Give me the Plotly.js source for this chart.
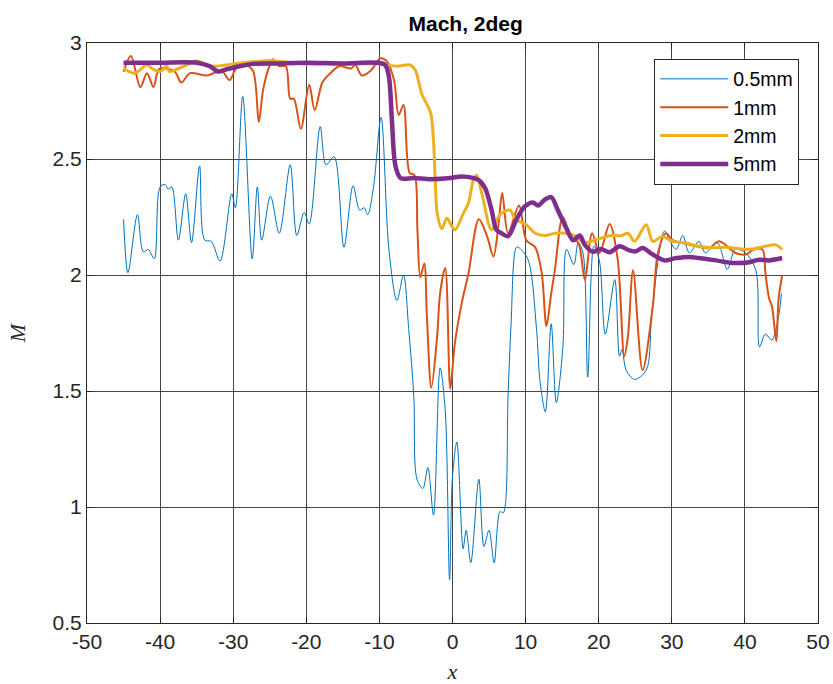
<!DOCTYPE html>
<html>
<head>
<meta charset="utf-8">
<script src="https://cdn.plot.ly/plotly-3.0.1.min.js"></script>
<style>html,body{margin:0;padding:0;background:#fff;}#chart{width:833px;height:684px;}</style>
</head>
<body>
<div id="chart"></div>
<script>
// 0.5mm
const x05 = [-45,-44.4,-43.1,-42.3,-41.6,-40.8,-40.0,-39.3,-38.9,-38.4,-37.5,-36.5,-35.7,-34.6,-33.9,-33.0,-31.8,-30.2,-29.7,-28.7,-27.4,-26.7,-26.1,-24.9,-23.7,-22.2,-21.3,-20.3,-19.6,-18.1,-17.3,-16.2,-14.85,-13.6,-12.7,-12.1,-11.6,-10.8,-9.77,-8.7,-7.6,-6.7,-6.0,-5.3,-4.86,-4.05,-3.37,-2.6,-1.7,-1.0,-0.4,0.0,0.6,1.45,1.87,2.5,3.6,4.3,5.0,5.7,6.5,6.95,7.6,8.0,8.76,9.2,10.35,11.5,11.95,12.7,13.5,14.2,15.1,15.6,16.6,17.2,17.85,18.5,19.35,20.1,20.9,22.2,22.85,23.2,23.75,24.9,26.5,27.3,29.0,29.7,30.6,31.5,32.4,33.7,34.6,36.2,37.6,38.7,40.1,41.5,42.0,42.8,43.7,44.6,45];
const y05 = [2.24,2.01,2.26,2.10,2.11,2.07,2.38,2.39,2.37,2.38,2.15,2.35,2.14,2.47,2.15,2.145,2.06,2.35,2.29,2.77,2.07,2.38,2.15,2.34,2.18,2.475,2.17,2.27,2.22,2.64,2.475,2.51,2.12,2.385,2.28,2.29,2.26,2.38,2.68,2.11,1.89,2.0,1.77,1.48,1.12,1.08,1.17,0.965,1.60,1.42,0.686,1.13,1.28,0.82,0.90,0.76,1.12,0.83,0.90,0.76,0.98,0.975,1.48,1.78,2.12,2.115,2.065,1.765,1.55,1.41,1.79,1.45,1.69,2.11,2.045,2.14,2.095,1.56,2.125,2.06,1.745,1.98,1.65,1.68,1.59,1.55,1.59,1.85,2.19,2.15,2.11,2.17,2.095,2.145,2.095,2.14,2.025,2.11,2.095,2.02,1.69,1.745,1.72,1.82,1.92];
// 1mm
const x1 = [-45,-44.0,-42.7,-41.8,-40.9,-40.1,-38.0,-37.1,-35.9,-33.6,-31.6,-30.5,-29.6,-28.4,-27.3,-26.5,-25.9,-25.0,-24.6,-23.7,-22.8,-22.2,-21.7,-20.75,-19.6,-18.85,-17.8,-16.7,-15.5,-13.9,-13.3,-12.4,-11.2,-9.85,-8.95,-8.0,-7.36,-6.7,-5.86,-5.2,-4.8,-4.4,-3.86,-3.5,-2.9,-2.1,-1.7,-1.0,-0.3,0.3,1.27,2.2,3.6,4.7,5.6,6.27,6.8,7.6,9.1,10.1,11.3,12.2,12.85,13.5,14.0,15.1,16.25,17.2,18.1,19.1,20.1,21.5,22.6,23.5,24.0,24.7,26.0,27.4,28.1,29.2,30.1,31.5,33.3,35.1,36.5,38.7,40.1,41.2,42.4,42.8,43.3,43.7,44.3,44.6,45.1];
const y1 = [2.876,2.944,2.81,2.87,2.81,2.89,2.876,2.83,2.87,2.86,2.88,2.84,2.89,2.905,2.88,2.66,2.80,2.905,2.93,2.9,2.9,2.76,2.76,2.63,2.82,2.71,2.83,2.87,2.9,2.89,2.905,2.86,2.88,2.934,2.92,2.84,2.69,2.733,2.44,2.43,2.195,1.99,2.05,1.82,1.514,1.736,1.92,2.03,1.51,1.70,1.88,2.01,2.24,2.17,2.08,2.21,2.353,2.18,2.30,2.15,2.12,2.01,1.78,1.92,2.02,2.25,2.16,2.14,1.98,2.18,2.095,2.22,2.066,1.65,1.736,2.02,1.59,1.865,2.095,2.18,2.15,2.138,2.124,2.116,2.145,2.095,2.088,2.11,2.11,2.01,1.90,1.865,1.715,1.894,2.0];
// 2mm
const x2 = [-45,-43.5,-41.8,-41.1,-40.0,-39.1,-38.7,-37.5,-36.4,-35.0,-33.9,-32.7,-30.0,-26.8,-24.6,-20,-15,-10,-8.95,-7.6,-5.8,-5.1,-4.2,-3.0,-2.6,-2.36,-2.1,-1.46,-0.78,-0.1,0.37,1.5,2.18,2.86,3.3,4.0,5.35,6.5,7.86,8.5,9.2,10.1,11.3,12.6,14.0,15.4,16.7,18.1,19.4,21.7,23.1,24.0,24.9,26.5,27.4,28.7,30.1,31.9,33.7,35.6,37.4,39.6,41.0,42.8,44.2,45.1];
const y2 = [2.89,2.87,2.905,2.89,2.877,2.90,2.877,2.89,2.905,2.924,2.91,2.90,2.91,2.92,2.924,2.91,2.91,2.91,2.905,2.90,2.905,2.884,2.78,2.70,2.58,2.41,2.267,2.20,2.245,2.21,2.195,2.267,2.31,2.41,2.43,2.353,2.195,2.26,2.28,2.245,2.23,2.217,2.18,2.17,2.18,2.18,2.17,2.14,2.15,2.17,2.17,2.18,2.145,2.217,2.145,2.166,2.145,2.138,2.124,2.117,2.12,2.112,2.112,2.124,2.13,2.11];
// 5mm
const x5 = [-45,-40,-35.0,-33.2,-32.1,-30.9,-29.1,-27.3,-24,-19.8,-15,-10.3,-9.2,-8.7,-8.27,-7.8,-7.1,-5.3,-3.0,-0.3,1.27,3.54,4.45,5.35,6.0,6.7,7.6,8.76,9.9,11.0,11.7,12.6,13.5,14.4,15.6,16.5,17.4,18.1,19.2,20.3,21.5,22.85,24.2,25.1,26.0,27.4,29.0,30.6,32.4,33.7,36.0,38.3,40.6,41.9,43.3,45.1];
const y5 = [2.915,2.915,2.915,2.90,2.877,2.887,2.90,2.91,2.912,2.915,2.912,2.915,2.905,2.855,2.655,2.47,2.418,2.418,2.413,2.418,2.425,2.41,2.375,2.28,2.195,2.18,2.167,2.24,2.296,2.313,2.30,2.324,2.336,2.28,2.20,2.15,2.17,2.13,2.10,2.112,2.098,2.124,2.106,2.102,2.116,2.088,2.063,2.073,2.078,2.073,2.063,2.052,2.055,2.066,2.063,2.073];

const xTicks = [-50,-40,-30,-20,-10,0,10,20,30,40,50];
const xTickText = ['-50','-40','-30','-20','-10','0','10','20','30','40','50'];
const yTicks = [0.5,1,1.5,2,2.5,3];
const yTickText = ['0.5','1','1.5','2','2.5','3'];

const names = ['0.5mm','1mm','2mm','5mm'];
const colors = ['#0072BD','#D95319','#EDB120','#7E2F8E'];
const widths = [1,2,3,4.5];
const xs = [x05,x1,x2,x5];
const ys = [y05,y1,y2,y5];

const traces = names.map((n,i)=>({
  x: xs[i], y: ys[i], name: n, type:'scatter', mode:'lines',
  line:{color:colors[i], width:widths[i], shape:'spline', smoothing:0.9}
}));

const axisCommon = {
  showline:true, linecolor:'#262626', linewidth:1, mirror:'ticks',
  ticks:'inside', ticklen:6, tickcolor:'#262626',
  showgrid:true, gridcolor:'rgba(38,38,38,0.85)', gridwidth:1,
  zeroline:false,
  tickfont:{family:'Liberation Sans, Arial, sans-serif', size:21, color:'#262626'}
};

const layout = {
  width:833, height:684,
  margin:{l:87, r:15, t:43, b:61},
  paper_bgcolor:'#fff', plot_bgcolor:'#fff',
  title:{text:'<b>Mach, 2deg</b>', x:0.559, xanchor:'center', y:0.966, yanchor:'middle',
    font:{family:'Liberation Sans, Arial, sans-serif', size:21, color:'#000'}},
  xaxis: Object.assign({}, axisCommon, {
    range:[-50,50], tickvals:xTicks, ticktext:xTickText,
    title:{text:'<i>x</i>', standoff:17, font:{family:'Liberation Serif, DejaVu Serif, serif', size:22, color:'#262626'}}
  }),
  yaxis: Object.assign({}, axisCommon, {
    range:[0.5,3], tickvals:yTicks, ticktext:yTickText,
    title:{text:'<i>M</i>', standoff:20, font:{family:'Liberation Serif, DejaVu Serif, serif', size:22, color:'#262626'}}
  }),
  legend:{
    x:0.776, y:0.973, xanchor:'left', yanchor:'top',
    bgcolor:'#fff', bordercolor:'#262626', borderwidth:1,
    font:{family:'Liberation Sans, Arial, sans-serif', size:19.5, color:'#000'},
    itemwidth:68, entrywidth:158, entrywidthmode:'pixels'
  },
  showlegend:true
};

Plotly.newPlot('chart', traces, layout, {displayModeBar:false, staticPlot:true});
</script>
</body>
</html>
